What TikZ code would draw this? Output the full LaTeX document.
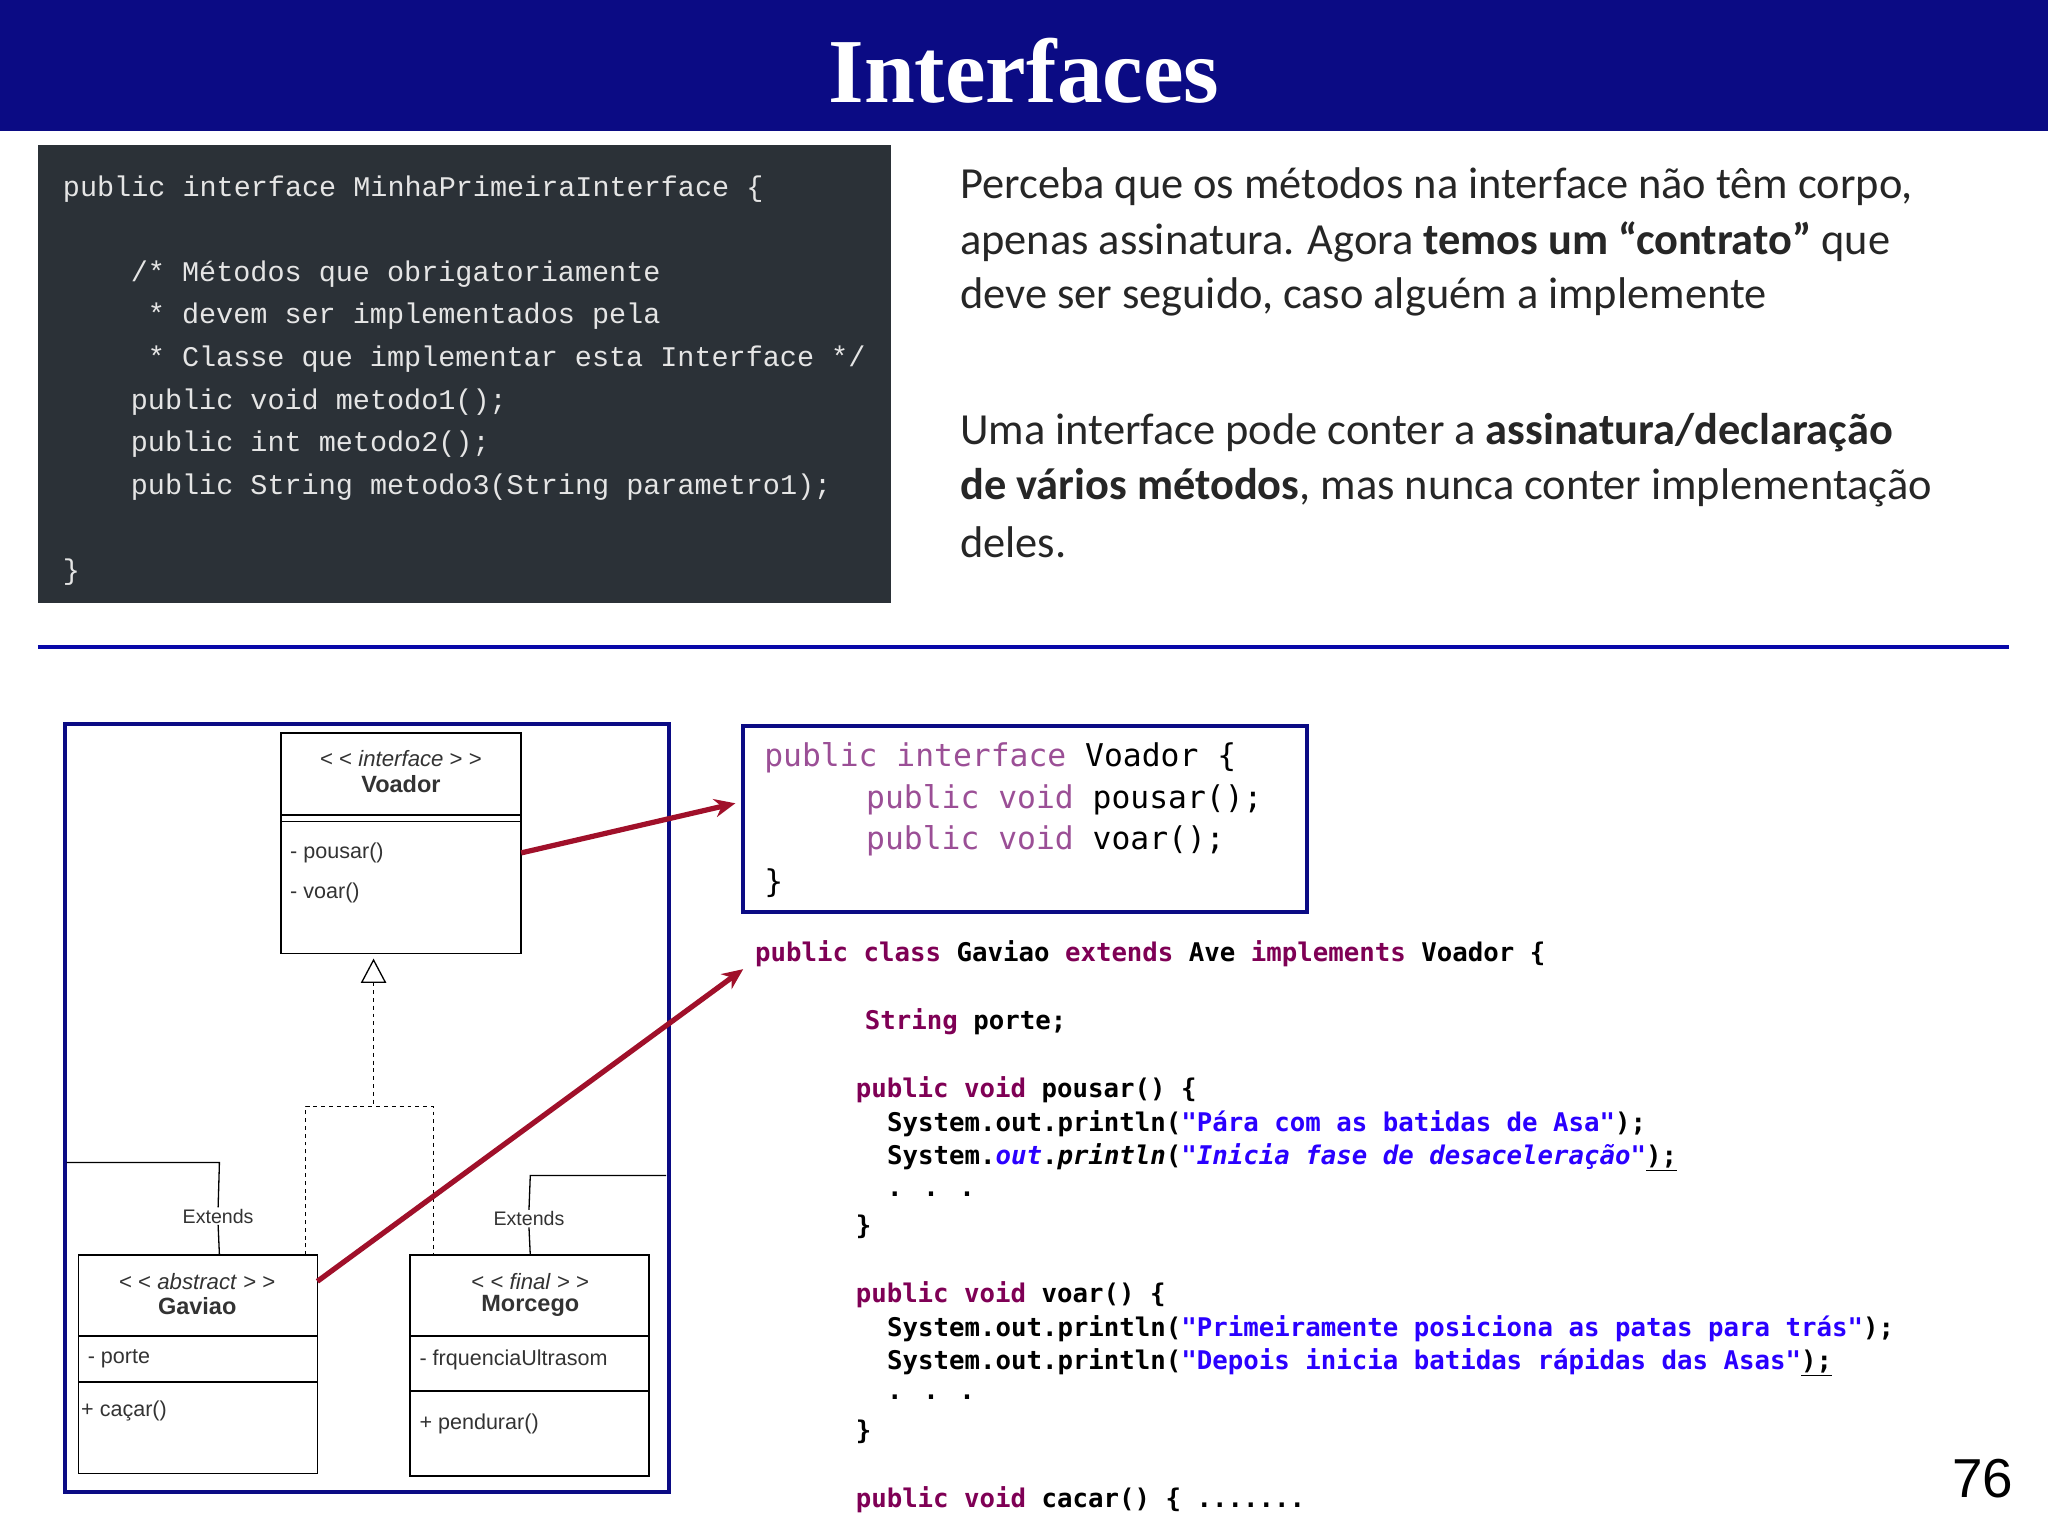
\documentclass[tikz,border=0pt]{standalone}
\usepackage{fontspec}
\setmainfont{Liberation Serif}
\newfontfamily\calfont{Carlito}
\newfontfamily\monofont{Liberation Mono}
\newfontfamily\monobfont{DejaVu Sans Mono}
\newfontfamily\arifont{Liberation Sans}
\usetikzlibrary{arrows.meta}
\definecolor{navy}{HTML}{0B0B84}
\definecolor{codebg}{HTML}{2B3137}
\definecolor{kw}{HTML}{7F0055}
\definecolor{kw2}{HTML}{9B4F96}
\definecolor{str}{HTML}{2A00FF}
\definecolor{arr}{HTML}{A0102A}
\tikzset{
 t/.style={anchor=west,inner sep=0pt},
 top/.style={t,font=\monofont\fontsize{21.8}{24}\selectfont,text=white!90!black},
 rt/.style={t,font=\calfont\fontsize{34}{38}\selectfont,text=black!85},
 bc/.style={t,font=\monobfont\fontsize{19.7}{22}\selectfont},
 vc/.style={t,font=\monobfont\fontsize{24}{28}\selectfont},
 um/.style={t,font=\arifont\fontsize{16.5}{18}\selectfont,text=black!80},
 umc/.style={inner sep=0pt,font=\arifont\fontsize{17}{19}\selectfont,text=black!80},
 box/.style={draw=black,line width=1.2pt},
 redarr/.style={draw=arr,line width=4pt,-{Stealth[length=16pt,width=14pt]}},
}
\begin{document}
\begin{tikzpicture}[x=1pt,y=-1pt]
\useasboundingbox (0,0) rectangle (1568,1176);
\fill[white] (0,0) rectangle (1568,1176);
% title
\fill[navy] (0,0) rectangle (1568,100);
\node[font=\bfseries\fontsize{70}{80}\selectfont,text=white] (title) at (784,54) {Interfaces};
% top code
\fill[codebg] (29,111) rectangle (682,462);
\node[top] (c1) at (48,145) {public interface MinhaPrimeiraInterface \{};
\node[top] (c2) at (100,210) {/* Métodos que obrigatoriamente};
\node[top] (c3) at (113,242) {* devem ser implementados pela};
\node[top] (c4) at (113,275) {* Classe que implementar esta Interface */};
\node[top] (c5) at (100,308) {public void metodo1();};
\node[top] (c6) at (100,340) {public int metodo2();};
\node[top] (c7) at (100,373) {public String metodo3(String parametro1);};
\node[top] (c8) at (48,438) {\}};
% right text
\node[rt] (r1) at (735,143) {Perceba que os métodos na interface não têm corpo,};
\node[rt] (r2) at (735,185) {apenas assinatura. Agora \textbf{temos um “contrato”} que};
\node[rt] (r3) at (735,227) {deve ser seguido, caso alguém a implemente};
\node[rt] (r4) at (735,331) {Uma interface pode conter a \textbf{assinatura/declaração}};
\node[rt] (r5) at (735,373) {\textbf{de vários métodos}, mas nunca conter implementação};
\node[rt] (r6) at (735,415) {deles.};
% separator
\draw[draw=navy!70!blue,line width=3pt] (29,495) -- (1538,495);
% UML frame
\draw[navy,line width=3pt] (50,554) rectangle (512,1142);
% Voador
\draw[box] (215,561) rectangle (399,730);
\draw[box] (215,624) -- (399,624) (215,629) -- (399,629);
\node[umc] (vs) at (307,581) {< < \textit{interface} > >};
\node[umc,font=\arifont\bfseries\fontsize{18}{20}\selectfont] (vn) at (307,600) {Voador};
\node[um] (vm1) at (222,653) {- pousar()};
\node[um] (vm2) at (222,684) {- voar()};
% Gaviao
\draw[box] (60,961) rectangle (243,1128);
\draw[box] (60,1023) -- (243,1023) (60,1058) -- (243,1058);
\node[umc] (gs) at (151,981) {< < \textit{abstract} > >};
\node[umc,font=\arifont\bfseries\fontsize{18}{20}\selectfont] (gn) at (151,1000) {Gaviao};
\node[um] (ga) at (67,1040) {- porte};
\node[um] (gm) at (62,1080) {+ caçar()};
% Morcego
\draw[box] (314,961) rectangle (497,1130);
\draw[box] (314,1023) -- (497,1023) (314,1065) -- (497,1065);
\node[umc] (ms) at (406,981) {< < \textit{final} > >};
\node[umc,font=\arifont\bfseries\fontsize{18}{20}\selectfont] (mn) at (406,1000) {Morcego};
\node[um] (ma) at (321,1041) {- frquenciaUltrasom};
\node[um] (mm) at (321,1090) {+ pendurar()};
% realization
\draw[line width=1pt] (286,735) -- (277,752) -- (295,752) -- cycle;
\draw[dashed,line width=1pt] (286,752) -- (286,847) (234,961) -- (234,847) -- (332,847) -- (332,961);
% extends
\node[umc,font=\arifont\fontsize{15}{17}\selectfont,fill=white,inner sep=1pt] (e1) at (167,931) {Extends};
\node[umc,font=\arifont\fontsize{15}{17}\selectfont,fill=white,inner sep=1pt] (e2) at (405,933) {Extends};
\draw[line width=1pt] (51,890) -- (168,890) -- (e1.north) (e1.south) -- (168,961);
\draw[line width=1pt] (510,900) -- (406,900) -- (e2.north) (e2.south) -- (406,961);
% Voador code box
\draw[navy,line width=3pt] (569,556) rectangle (1001,698);
\node[vc] (v1) at (585,580) {\textcolor{kw2}{public interface} Voador \{};
\node[vc] (v2) at (663,612) {\textcolor{kw2}{public void} pousar();};
\node[vc] (v3) at (663,644) {\textcolor{kw2}{public void} voar();};
\node[vc] (v4) at (585,676) {\}};
% Gaviao code
\node[bc] (g1) at (578,730) {\textbf{\textcolor{kw}{public class} Gaviao \textcolor{kw}{extends} Ave \textcolor{kw}{implements} Voador \{}};
\node[bc] (g2) at (662,782) {\textbf{\textcolor{kw}{String} porte;}};
\node[bc] (g3) at (655,834) {\textbf{\textcolor{kw}{public void} pousar() \{}};
\node[bc] (g4) at (679,860) {\textbf{System.out.println(\textcolor{str}{"Pára com as batidas de Asa"});}};
\node[bc] (g5) at (679,886) {\textbf{System.\textit{\textcolor{str}{out}}.\textit{println}(\textit{\textcolor{str}{"Inicia fase de desaceleração"}}\underline{);}}};
\node[bc] (g6) at (679,914) {\textbf{. . .}};
\node[bc] (g7) at (655,939) {\textbf{\}}};
\node[bc] (g8) at (655,991) {\textbf{\textcolor{kw}{public void} voar() \{}};
\node[bc] (g9) at (679,1017) {\textbf{System.out.println(\textcolor{str}{"Primeiramente posiciona as patas para trás"});}};
\node[bc] (g10) at (679,1043) {\textbf{System.out.println(\textcolor{str}{"Depois inicia batidas rápidas das Asas"}\underline{);}}};
\node[bc] (g11) at (679,1070) {\textbf{. . .}};
\node[bc] (g12) at (655,1096) {\textbf{\}}};
\node[bc] (g13) at (655,1148) {\textbf{\textcolor{kw}{public void} cacar() \{ .......}};
% red arrows
\coordinate (a1s) at (399,653);
\coordinate (a1e) at (563,615);
\coordinate (a2s) at (243,981);
\coordinate (a2e) at (569,742);
\draw[redarr] (a1s) -- (a1e);
\draw[redarr] (a2s) -- (a2e);
% page number
\node[font=\arifont\fontsize{42}{46}\selectfont] (pg) at (1518,1132) {76};
\end{tikzpicture}
\end{document}
